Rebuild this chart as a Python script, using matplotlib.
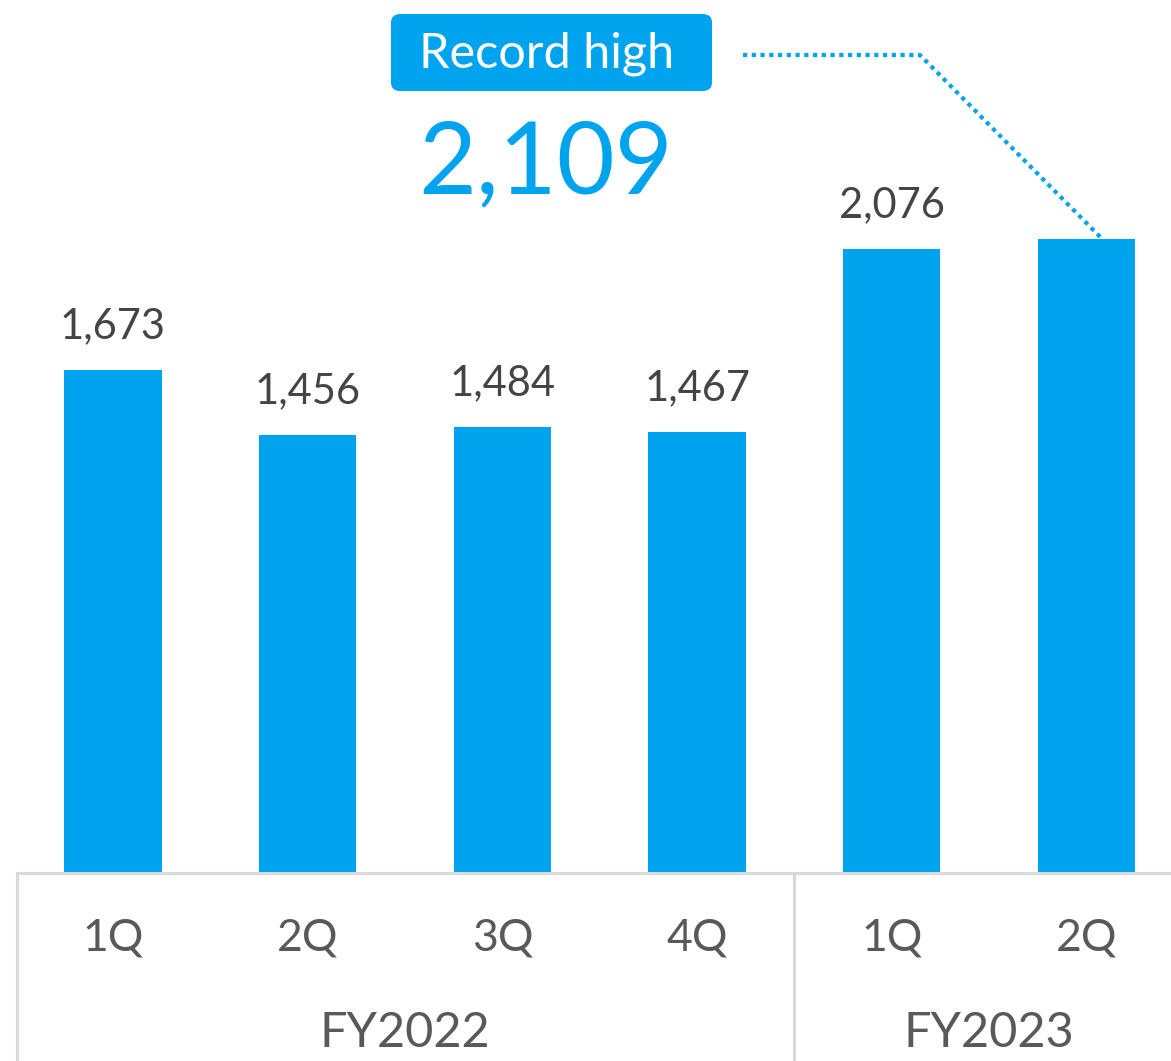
import matplotlib.pyplot as plt
from matplotlib.patches import FancyBboxPatch
from matplotlib import font_manager

quarters = ['1Q', '2Q', '3Q', '4Q', '1Q', '2Q']
years = ['FY2022', 'FY2022', 'FY2022', 'FY2022', 'FY2023', 'FY2023']
values = [1673, 1456, 1484, 1467, 2076, 2109]
highlight = 5  # record quarter

blue = '#00A3EE'
grey_text = '#444444'
axis_grey = '#d9d9d9'

names = {f.name for f in font_manager.fontManager.ttflist}
font = 'Lato' if 'Lato' in names else 'DejaVu Sans'
plt.rcParams['font.family'] = [font, 'DejaVu Sans']

W, H = 1171, 1061
fig = plt.figure(figsize=(W / 100, H / 100), dpi=100)
base = 188  # pixel height below the baseline
ax = fig.add_axes([0, base / H, 1, (H - base) / H])

step = 194.7
x0 = 113
ax.set_xlim(-x0 / step, (W - x0) / step)
px_per_unit = 0.3007
ax.set_ylim(0, (H - base) / px_per_unit)
ax.axis('off')

xs = list(range(len(values)))
bars = ax.bar(xs, values, width=0.5, color=blue, zorder=2)

# value labels above bars (the record one gets a separate callout)
for i, (x, v) in enumerate(zip(xs, values)):
    if i == highlight:
        continue
    ax.annotate(f'{v:,}', (x, v), xytext=(0, 18), textcoords='offset points',
                ha='center', va='bottom', fontsize=30, color=grey_text)

# axis frame under the bars
left = (17 - x0) / step
ybot = -base / px_per_unit
ax.plot([left, ax.get_xlim()[1]], [0, 0], color=axis_grey, lw=2.2, clip_on=False, zorder=3)
ax.plot([left, left], [0, ybot], color=axis_grey, lw=2.2, clip_on=False)
ax.plot([3.5, 3.5], [0, ybot], color=axis_grey, lw=2.2, clip_on=False)

# quarter and year labels
tick_y = -65 / px_per_unit
for x, q in zip(xs, quarters):
    ax.text(x, tick_y, q, ha='center', va='center', fontsize=32, color='#595959')
year_y = -160 / px_per_unit
for yr in dict.fromkeys(years):
    idx = [i for i, y in enumerate(years) if y == yr]
    ax.text(sum(idx) / len(idx), year_y, yr, ha='center', va='center',
            fontsize=35, color='#595959')

# "Record high" callout
box = FancyBboxPatch((391 / W, 1 - 91 / H), 321 / W, 77 / H,
                     boxstyle='round,pad=0,rounding_size=0.008',
                     transform=fig.transFigure, facecolor=blue, edgecolor='none')
fig.patches.append(box)
fig.text(547 / W, 1 - 54 / H, 'Record high', ha='center', va='center',
         fontsize=35, color='white')
fig.text(546 / W, 1 - 165 / H, f'{values[highlight]:,}', ha='center', va='center',
         fontsize=72, color=blue)

# dotted leader to the record bar
top_x = xs[highlight] + 0.08
top_y = values[highlight]
lx = [(743 - x0) / step, (920 - x0) / step, top_x]
ly = [(H - base - 55) / px_per_unit, (H - base - 55) / px_per_unit, top_y]
ax.plot(lx, ly, color=blue, lw=3, linestyle=(0, (1, 1.1)), clip_on=False)

fig.savefig('out.png', dpi=100)
